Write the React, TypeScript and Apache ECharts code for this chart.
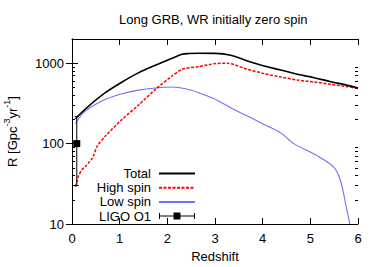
import React, { useEffect, useRef } from "react";
import * as echarts from "echarts";

const titleText = "Long GRB, WR initially zero spin";
const xTicks = [0, 1, 2, 3, 4, 5, 6];
const yTicks = [10, 100, 1000];
const yMinorTicks = [20, 30, 40, 50, 60, 70, 80, 90, 200, 300, 400, 500, 600, 700, 800, 900, 2000];

const totalZ = [0.07, 0.35, 0.7, 1.05, 1.4, 1.75, 2.1, 2.31, 2.45, 2.66, 3.0, 3.33, 3.68, 4.03, 4.38, 4.73, 5.08, 5.43, 5.78, 6.0];
const totalV = [204, 293, 430, 583, 764, 942, 1151, 1291, 1320, 1330, 1325, 1256, 1066, 923, 823, 727, 661, 589, 530, 490];

const highZ = [0.07, 0.1, 0.14, 0.21, 0.28, 0.35, 0.42, 0.46, 0.53, 0.7, 1.05, 1.4, 1.75, 2.1, 2.31, 2.66, 3.01, 3.26, 3.68, 4.03, 4.38, 4.73, 5.08, 5.43, 5.78, 6.0];
const highV = [29, 33, 40, 47.5, 52, 58, 65, 73, 93, 124, 200, 303, 473, 693, 840, 907, 989, 997, 840, 742, 673, 617, 583, 546, 511, 482];

const lowZ = [0.07, 0.28, 0.7, 1.05, 1.4, 1.75, 2.1, 2.38, 2.66, 2.98, 3.33, 3.68, 4.03, 4.38, 4.65, 5.14, 5.49, 5.63, 5.77, 5.83];
const lowV = [178, 253, 355, 418, 463, 491, 505, 482, 430, 362, 279, 220, 173, 136, 100, 71, 51, 35, 14.7, 10];

// LIGO O1: [z, rate, low, high]
const ligo = [[0.1, 100, 30, 218]];

const zip = (xs: number[], ys: number[]) => xs.map((x, i) => [x, ys[i]]);

export default function App() {
  const ref = useRef<HTMLDivElement>(null);
  useEffect(() => {
    if (!ref.current) return;
    const chart = echarts.init(ref.current, null, { renderer: "svg" });
    const font = "Liberation Sans";
    const axisLine = { show: true, lineStyle: { color: "#000", width: 1 } };
    const tickStyle = { color: "#000", width: 1 };
    const hideSym = { opacity: 0 };
    const minorAxis = (position: string) => ({
      type: "log",
      logBase: 10,
      min: 10,
      max: 2000,
      position,
      axisLine: { show: false },
      splitLine: { show: false },
      axisTick: { show: true, inside: true, length: 3, lineStyle: tickStyle, customValues: yMinorTicks },
      axisLabel: { show: false, customValues: yMinorTicks },
    });
    chart.setOption({
      animation: false,
      textStyle: { fontFamily: font },
      title: {
        text: titleText,
        left: 119,
        top: 13,
        padding: 0,
        textStyle: { fontSize: 13, fontWeight: "normal", color: "#000", fontFamily: font },
      },
      grid: { left: 72, top: 39, right: 24, bottom: 43, containLabel: false, outerBoundsMode: "none" },
      legend: {
        orient: "vertical",
        align: "right",
        right: 186,
        top: 167,
        itemWidth: 36,
        itemHeight: 10,
        itemGap: 1.2,
        padding: 0,
        textStyle: { fontSize: 13, lineHeight: 13, color: "#000", fontFamily: font, padding: [0, 3, 0, 0] },
        data: [
          { name: "Total", itemStyle: hideSym },
          { name: "High spin", itemStyle: hideSym },
          { name: "Low spin", itemStyle: hideSym },
          {
            name: "LIGO O1",
            icon: "path://M0,4.5h36v1h-36z M0,2h1v6h-1z M35,2h1v6h-1z M14.5,1.5h7v7h-7z",
            itemStyle: { color: "#000", opacity: 1 },
          },
        ],
      },
      xAxis: [
        {
          type: "value",
          min: 0,
          max: 6,
          interval: 1,
          axisLine,
          splitLine: { show: false },
          axisTick: { show: true, inside: true, length: 6, lineStyle: tickStyle, customValues: xTicks },
          name: "Redshift",
          nameLocation: "middle",
          nameGap: 26,
          nameTextStyle: { fontSize: 13, color: "#000", fontFamily: font },
          axisLabel: { fontSize: 13, color: "#000", margin: 8, fontFamily: font, customValues: xTicks },
        },
        {
          type: "value",
          position: "top",
          min: 0,
          max: 6,
          interval: 1,
          axisLine,
          splitLine: { show: false },
          axisTick: { show: true, inside: true, length: 6, lineStyle: tickStyle, customValues: xTicks },
          axisLabel: { show: false },
        },
      ],
      yAxis: [
        {
          type: "log",
          logBase: 10,
          min: 10,
          max: 2000,
          position: "left",
          axisLine,
          splitLine: { show: false },
          axisTick: { show: true, inside: true, length: 6, lineStyle: tickStyle, customValues: yTicks },
          name: "{a|R [Gpc}{s|-3}{a|yr}{s|-1}{a|]}",
          nameLocation: "middle",
          nameGap: 50,
          nameRotate: 90,
          nameTextStyle: {
            fontSize: 13,
            color: "#000",
            fontFamily: font,
            rich: {
              a: { fontSize: 13, lineHeight: 20, fontFamily: font, color: "#000" },
              s: { fontSize: 9, lineHeight: 9, verticalAlign: "top", fontFamily: font, color: "#000" },
            },
          },
          axisLabel: {
            fontSize: 13,
            color: "#000",
            margin: 8,
            fontFamily: font,
            customValues: yTicks,
            formatter: (v: number) => String(Math.round(v)),
          },
        },
        {
          type: "log",
          logBase: 10,
          min: 10,
          max: 2000,
          position: "right",
          axisLine,
          splitLine: { show: false },
          axisTick: { show: true, inside: true, length: 6, lineStyle: tickStyle, customValues: yTicks },
          axisLabel: { show: false, customValues: yTicks },
        },
        minorAxis("left"),
        minorAxis("right"),
      ],
      series: [
        {
          name: "Total",
          type: "line",
          data: zip(totalZ, totalV),
          showSymbol: false,
          smooth: 0.35,
          color: "#000",
          lineStyle: { color: "#000", width: 1.6 },
          z: 5,
        },
        {
          name: "High spin",
          type: "line",
          data: zip(highZ, highV),
          showSymbol: false,
          smooth: 0.25,
          color: "#ff0000",
          lineStyle: { color: "#ff0000", width: 1.5, type: [3, 1.5] },
          z: 4,
        },
        {
          name: "Low spin",
          type: "line",
          data: zip(lowZ, lowV),
          showSymbol: false,
          smooth: 0.3,
          color: "#7070ff",
          lineStyle: { color: "#7070ff", width: 1.1 },
          z: 3,
        },
        {
          name: "LIGO O1",
          type: "custom",
          data: ligo,
          itemStyle: { color: "#000" },
          z: 6,
          renderItem: (params: any, api: any) => {
            const x = api.value(0), y = api.value(1), lo = api.value(2), hi = api.value(3);
            const c = api.coord([x, y]);
            const pl = api.coord([x, lo]);
            const ph = api.coord([x, hi]);
            const st = { stroke: "#000", lineWidth: 1 };
            return {
              type: "group",
              children: [
                { type: "line", shape: { x1: pl[0], y1: pl[1], x2: ph[0], y2: ph[1] }, style: st },
                { type: "line", shape: { x1: pl[0] - 2, y1: pl[1], x2: pl[0] + 2, y2: pl[1] }, style: st },
                { type: "line", shape: { x1: ph[0] - 2, y1: ph[1], x2: ph[0] + 2, y2: ph[1] }, style: st },
                { type: "rect", shape: { x: c[0] - 3.5, y: c[1] - 3.5, width: 7, height: 7 }, style: { fill: "#000" } },
              ],
            };
          },
        },
      ],
    });
    return () => chart.dispose();
  }, []);
  return <div ref={ref} style={{ width: 382, height: 267, position: "absolute", left: 0, top: 0 }} />;
}
